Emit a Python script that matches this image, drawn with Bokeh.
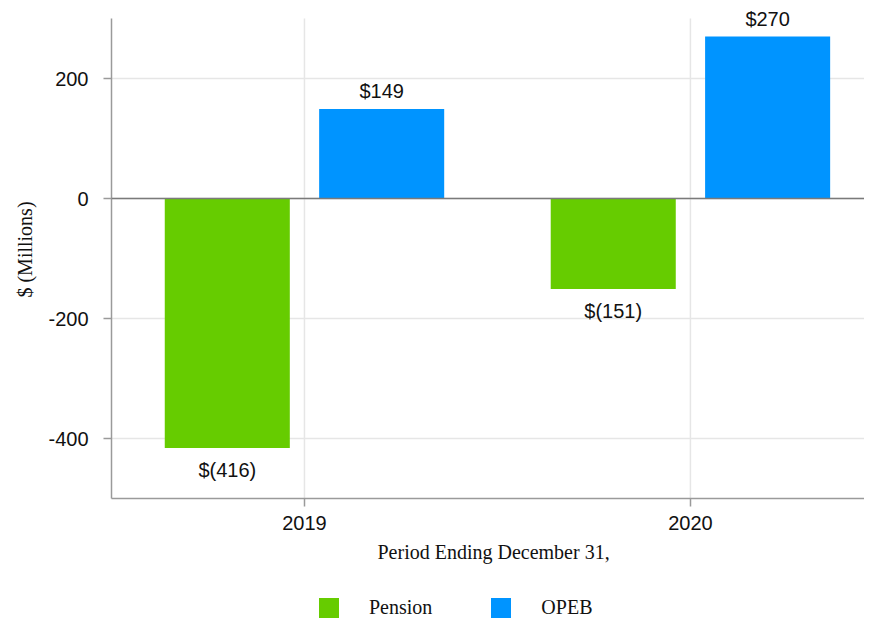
from bokeh.plotting import figure
from bokeh.layouts import column
from bokeh.models import (ColumnDataSource, FixedTicker, Legend, LegendItem,
                          LabelSet, Span, Title)
from bokeh.core.properties import value
from bokeh.embed import file_html
from bokeh.resources import INLINE

# ---- data ----
years = ["2019", "2020"]
pension = [-416, -151]
opeb = [149, 270]
series_names = ["Pension", "OPEB"]
colors = ["#66CC00", "#0094FF"]
y_ticks = [-400, -200, 0, 200]
y_tick_labels = ["-400", "-200", "0", "200"]
y_min, y_max = -500, 300
x_title = "Period Ending December 31,"
y_title = "$ (Millions)"


def fmt(v):
    return f"${v}" if v >= 0 else f"$({-v})"


x_pos = [i + 1 for i in range(len(years))]
dodge = 0.2
bar_w = 0.324

p = figure(frame_width=753, frame_height=498, output_backend="svg",
           toolbar_location=None, x_range=(0.5, 2.451),
           y_range=(y_min, y_max + 30),
           min_border_left=111, min_border_right=0, min_border_top=0,
           min_border_bottom=85)
p.outline_line_color = None

# vertical grid lines limited to the axis extent
p.segment(x0=x_pos, x1=x_pos, y0=[y_min] * len(x_pos), y1=[y_max] * len(x_pos),
          line_color="#e6e6e6", line_width=1.5)

src_p = ColumnDataSource(dict(x=[x - dodge for x in x_pos], top=pension,
                              text=[fmt(v) for v in pension]))
src_o = ColumnDataSource(dict(x=[x + dodge for x in x_pos], top=opeb,
                              text=[fmt(v) for v in opeb]))
sources = [src_p, src_o]

r_p = p.vbar(x="x", top="top", bottom=0, width=bar_w, source=src_p,
             fill_color=colors[0], line_color=None)
r_o = p.vbar(x="x", top="top", bottom=0, width=bar_w, source=src_o,
             fill_color=colors[1], line_color=None)

p.add_layout(Span(location=0, dimension="width", line_color="#7a7a7a",
                  line_width=1.5))

for src in sources:
    pos = [v >= 0 for v in src.data["top"]]
    src.data["baseline"] = ["bottom" if q else "top" for q in pos]
    src.data["yoff"] = [7 if q else -11 for q in pos]
    p.add_layout(LabelSet(x="x", y="top", text="text", source=src,
                          text_align="center", text_baseline="baseline",
                          y_offset="yoff", text_font=value("Liberation Sans"),
                          text_font_size="20px", text_color="#111111"))

# axes
for ax in (p.xaxis[0], p.yaxis[0]):
    ax.axis_line_color = "#9a9a9a"
    ax.axis_line_width = 1.5
    ax.major_tick_line_color = "#9a9a9a"
    ax.major_tick_line_width = 1.5
    ax.major_tick_out = 8
    ax.major_tick_in = 0
    ax.minor_tick_line_color = None
    ax.major_label_text_font = "Liberation Sans"
    ax.major_label_text_font_size = "20px"
    ax.major_label_text_color = "#111111"
    ax.axis_label_text_font = "Liberation Serif"
    ax.axis_label_text_font_size = "20px"
    ax.axis_label_text_font_style = "normal"
    ax.axis_label_text_color = "#111111"

p.xaxis.ticker = FixedTicker(ticks=x_pos)
p.xaxis.major_label_overrides = {x: y for x, y in zip(x_pos, years)}
p.xaxis.major_label_standoff = 9

p.yaxis.ticker = FixedTicker(ticks=y_ticks)
p.yaxis.bounds = (y_min, y_max)
p.yaxis.major_label_overrides = {t: l for t, l in zip(y_ticks, y_tick_labels)}
p.yaxis.major_label_standoff = 15
p.yaxis.axis_label = y_title
p.yaxis.axis_label_standoff = 9

p.xgrid.visible = False
p.ygrid.grid_line_color = "#e6e6e6"
p.ygrid.grid_line_width = 1.5

title = Title(text=x_title, align="left", offset=266,
              text_font="Liberation Serif", text_font_size="20px",
              text_font_style="normal", text_color="#111111", standoff=13)
p.add_layout(title, "below")

# ---- legend strip (its bars lie outside its visible range) ----
q = figure(width=864, height=38, output_backend="svg", toolbar_location=None,
           x_range=(0, 1), y_range=(5000, 6000), min_border=0)
q.outline_line_color = None
q.axis.visible = False
q.grid.visible = False
lr = [q.vbar(x="x", top="top", bottom=0, width=bar_w, source=s,
             fill_color=c, line_color=None)
      for s, c in zip(sources, colors)]
legend = Legend(items=[LegendItem(label=n, renderers=[r])
                       for n, r in zip(series_names, lr)],
                orientation="horizontal", location=(205, 1),
                glyph_width=25, glyph_height=25, label_standoff=28,
                spacing=56, label_text_font="Liberation Serif",
                label_text_font_size="20px", label_text_color="#111111",
                border_line_color=None, background_fill_alpha=0,
                padding=0, margin=0, label_height=25)
q.add_layout(legend, "center")

layout = column(p, q, spacing=0)
open("out.html", "w").write(file_html(layout, INLINE))
